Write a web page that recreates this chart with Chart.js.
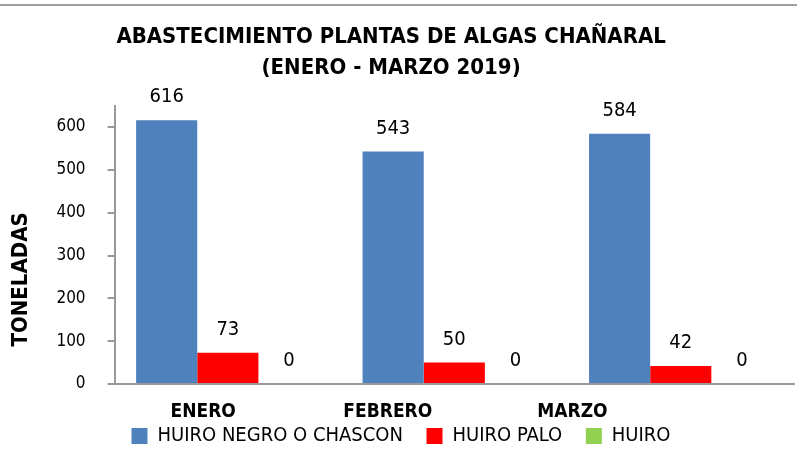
<!DOCTYPE html>
<html>
<head>
<meta charset="utf-8">
<script src="https://cdn.jsdelivr.net/npm/chart.js@4/dist/chart.umd.min.js"></script>
<style>
  html, body { margin: 0; padding: 0; background: #fff; }
  #wrap { position: relative; width: 797px; height: 465px; }
  #topline { position: absolute; left: 0; top: 4px; width: 797px; height: 0; border-top: 2px solid #a0a0a0; }
  #myChart { position: absolute; left: 0; top: 0; }
</style>
</head>
<body>
<div id="wrap">
  <canvas id="myChart" width="797" height="465"></canvas>
  <div id="topline"></div>
</div>
<script>
// Data
const months = ['ENERO', 'FEBRERO', 'MARZO'];
const huiroNegro = [616, 543, 584];
const huiroPalo = [73, 50, 42];
const huiro = [0, 0, 0];
const yTicks = [0, 100, 200, 300, 400, 500, 600];

const FONT = "'DejaVu Sans Condensed', 'Liberation Sans Narrow', sans-serif";

// value labels above each bar
const barLabels = {
  id: 'barLabels',
  afterDatasetsDraw(chart) {
    const ctx = chart.ctx;
    ctx.save();
    ctx.font = '20px ' + FONT;
    ctx.fillStyle = '#000';
    ctx.textAlign = 'center';
    ctx.textBaseline = 'bottom';
    chart.data.datasets.forEach((ds, i) => {
      const meta = chart.getDatasetMeta(i);
      meta.data.forEach((bar, j) => {
        ctx.fillText(ds.data[j], bar.x, bar.y - 13);
      });
    });
    ctx.restore();
  }
};

const ctx = document.getElementById('myChart').getContext('2d');
new Chart(ctx, {
  type: 'bar',
  data: {
    labels: months,
    datasets: [
      { label: 'HUIRO NEGRO O CHASCON', data: huiroNegro, backgroundColor: '#4f81bd' },
      { label: 'HUIRO PALO', data: huiroPalo, backgroundColor: '#ff0000' },
      { label: 'HUIRO', data: huiro, backgroundColor: '#92d050' }
    ]
  },
  options: {
    responsive: false,
    animation: false,
    layout: { padding: { left: 8, right: 3, top: 12, bottom: 9 } },
    datasets: {
      bar: { categoryPercentage: 0.81, barPercentage: 1 }
    },
    plugins: {
      title: {
        display: true,
        text: ['ABASTECIMIENTO PLANTAS DE ALGAS CHAÑARAL\u2002\u2002', '(ENERO - MARZO 2019)\u2002\u2002'],
        color: '#000',
        font: { family: FONT, size: 22, weight: 'bold', lineHeight: 1.4 },
        padding: { top: 10, bottom: 22 }
      },
      legend: {
        position: 'bottom',
        labels: {
          color: '#000',
          font: { family: FONT, size: 20, lineHeight: 0.9 },
          boxWidth: 16,
          boxHeight: 16,
          padding: 2,
          generateLabels(chart) {
            const items = Chart.defaults.plugins.legend.labels.generateLabels(chart);
            items.forEach((it, i) => {
              if (i < items.length - 1) it.text = it.text + '\u2002\u2002\u2009';
            });
            return items;
          }
        }
      },
      tooltip: { enabled: false }
    },
    scales: {
      x: {
        grid: { display: false, drawTicks: false },
        border: { color: '#999', width: 2 },
        ticks: { display: false }
      },
      // month labels sit left of the bar groups in the original
      xl: {
        type: 'linear',
        position: 'bottom',
        offset: false,
        min: -0.48,
        max: 3.2,
        afterBuildTicks(scale) {
          scale.ticks = months.map((m, i) => ({ value: i }));
        },
        grid: { display: true, drawOnChartArea: false, drawTicks: true, tickLength: 17, color: 'rgba(0,0,0,0)' },
        border: { display: false },
        ticks: {
          color: '#000',
          font: { family: FONT, size: 19, weight: 'bold', lineHeight: 1 },
          padding: 2,
          callback: (v) => months[v]
        }
      },
      y: {
        min: 0,
        max: 650,
        afterBuildTicks(scale) {
          scale.ticks = yTicks.map(v => ({ value: v }));
        },
        grid: { drawOnChartArea: false, drawTicks: true, tickLength: 7, color: '#999', lineWidth: 2 },
        border: { color: '#999', width: 2 },
        ticks: {
          color: '#000',
          font: { family: FONT, size: 17 },
          padding: 22
        },
        title: {
          display: true,
          text: 'TONELADAS' + '\u2002'.repeat(7),
          color: '#000',
          font: { family: FONT, size: 22, weight: 'bold' },
          padding: { top: 0, bottom: 0 }
        }
      }
    }
  },
  plugins: [barLabels]
});
</script>
</body>
</html>
